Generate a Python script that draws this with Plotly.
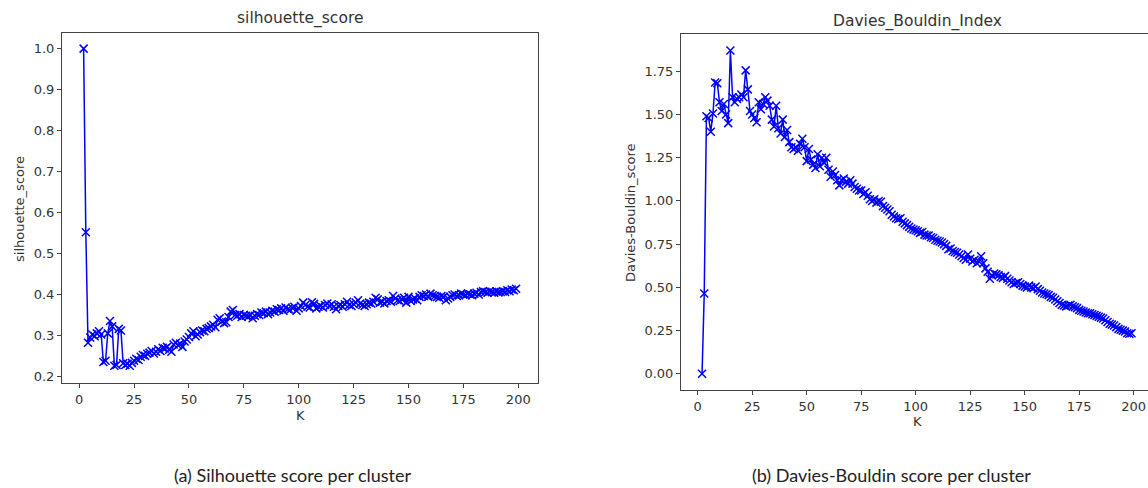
import plotly.graph_objects as go

W, H = 1148, 488

# number of clusters evaluated
k_values = list(range(2, 200))

silhouette = [
    1.000, 0.552, 0.282, 0.295, 0.302, 0.298, 0.305, 0.310, 0.302, 0.235,
    0.238, 0.305, 0.335, 0.322, 0.226, 0.228, 0.316, 0.312, 0.232, 0.228,
    0.231, 0.226, 0.233, 0.238, 0.243, 0.240, 0.248, 0.252, 0.250, 0.255,
    0.258, 0.262, 0.256, 0.260, 0.266, 0.262, 0.270, 0.268, 0.272, 0.265,
    0.260, 0.278, 0.282, 0.276, 0.280, 0.272, 0.285, 0.290, 0.296, 0.305,
    0.310, 0.298, 0.302, 0.308, 0.312, 0.310, 0.316, 0.318, 0.322, 0.326,
    0.320, 0.338, 0.342, 0.334, 0.330, 0.332, 0.345, 0.358, 0.362, 0.350,
    0.348, 0.352, 0.345, 0.350, 0.348, 0.346, 0.350, 0.342, 0.348, 0.352,
    0.350, 0.356, 0.354, 0.358, 0.352, 0.356, 0.360, 0.358, 0.364, 0.362,
    0.366, 0.360, 0.368, 0.364, 0.362, 0.367, 0.370, 0.360, 0.366, 0.372,
    0.380, 0.374, 0.370, 0.368, 0.381, 0.377, 0.366, 0.370, 0.372, 0.368,
    0.374, 0.378, 0.372, 0.376, 0.370, 0.364, 0.372, 0.374, 0.370, 0.376,
    0.382, 0.374, 0.372, 0.376, 0.380, 0.386, 0.378, 0.374, 0.372, 0.376,
    0.380, 0.378, 0.382, 0.392, 0.388, 0.380, 0.382, 0.378, 0.384, 0.386,
    0.382, 0.396, 0.390, 0.386, 0.384, 0.388, 0.392, 0.380, 0.394, 0.384,
    0.388, 0.390, 0.386, 0.394, 0.398, 0.396, 0.400, 0.394, 0.402, 0.398,
    0.396, 0.394, 0.392, 0.396, 0.394, 0.386, 0.390, 0.394, 0.398, 0.400,
    0.396, 0.398, 0.402, 0.400, 0.398, 0.402, 0.400, 0.398, 0.402, 0.404,
    0.400, 0.406, 0.408, 0.406, 0.404, 0.408, 0.406, 0.404, 0.407, 0.405,
    0.406, 0.408, 0.406, 0.410, 0.408, 0.412, 0.410, 0.414,
]

davies_bouldin = [
    0.000, 0.465, 1.490, 1.480, 1.400, 1.505, 1.685, 1.680, 1.570, 1.520,
    1.560, 1.500, 1.450, 1.870, 1.600, 1.570, 1.590, 1.600, 1.615, 1.600,
    1.755, 1.645, 1.520, 1.500, 1.480, 1.455, 1.570, 1.530, 1.560, 1.600,
    1.580, 1.550, 1.470, 1.430, 1.550, 1.420, 1.390, 1.470, 1.370, 1.410,
    1.340, 1.310, 1.300, 1.310, 1.290, 1.330, 1.360, 1.310, 1.230, 1.300,
    1.240, 1.210, 1.190, 1.270, 1.200, 1.250, 1.220, 1.250, 1.180, 1.140,
    1.170, 1.150, 1.120, 1.090, 1.120, 1.130, 1.110, 1.100, 1.120, 1.100,
    1.080, 1.070, 1.060, 1.060, 1.040, 1.050, 1.030, 1.010, 1.000, 1.010,
    0.990, 1.000, 0.995, 0.970, 0.960, 0.950, 0.940, 0.920, 0.910, 0.900,
    0.895, 0.900, 0.880, 0.870, 0.860, 0.850, 0.840, 0.835, 0.830, 0.825,
    0.815, 0.820, 0.805, 0.800, 0.800, 0.790, 0.785, 0.775, 0.770, 0.765,
    0.760, 0.750, 0.740, 0.720, 0.725, 0.710, 0.705, 0.700, 0.690, 0.680,
    0.670, 0.660, 0.690, 0.665, 0.650, 0.660, 0.640, 0.650, 0.680, 0.640,
    0.610, 0.590, 0.550, 0.570, 0.580, 0.575, 0.570, 0.560, 0.555, 0.565,
    0.550, 0.540, 0.530, 0.520, 0.525, 0.530, 0.520, 0.510, 0.505, 0.500,
    0.510, 0.500, 0.495, 0.505, 0.490, 0.480, 0.470, 0.465, 0.460, 0.455,
    0.445, 0.440, 0.430, 0.420, 0.410, 0.400, 0.395, 0.390, 0.395, 0.400,
    0.390, 0.385, 0.380, 0.370, 0.365, 0.360, 0.355, 0.350, 0.350, 0.345,
    0.340, 0.335, 0.330, 0.325, 0.320, 0.310, 0.300, 0.290, 0.285, 0.280,
    0.270, 0.260, 0.255, 0.250, 0.245, 0.235, 0.232, 0.235,
]

sil_ticks = [0.2, 0.3, 0.4, 0.5, 0.6, 0.7, 0.8, 0.9, 1.0]
db_ticks = [0.0, 0.25, 0.5, 0.75, 1.0, 1.25, 1.5, 1.75]
k_ticks = [0, 25, 50, 75, 100, 125, 150, 175, 200]


def px_x(p):
    return p / W


def px_y(p):
    return 1 - p / H


line_style = dict(color="#0000ff", width=1.5)
marker_style = dict(symbol="x-thin", size=8, line=dict(color="#0000ff", width=1.5))

fig = go.Figure()
fig.add_trace(go.Scatter(x=k_values, y=silhouette, mode="lines+markers",
                         line=line_style, marker=marker_style,
                         xaxis="x", yaxis="y", showlegend=False))
fig.add_trace(go.Scatter(x=k_values, y=davies_bouldin, mode="lines+markers",
                         line=line_style, marker=marker_style,
                         xaxis="x2", yaxis="y2", showlegend=False))

tick_font = dict(family="DejaVu Sans", size=13, color="#333333")
axis_common = dict(showgrid=False, zeroline=False, showline=True,
                   linecolor="#444444", linewidth=1, ticks="outside",
                   ticklen=4, tickwidth=1, tickcolor="#444444",
                   tickfont=tick_font)

fig.update_layout(
    width=W, height=H,
    margin=dict(l=0, r=0, t=0, b=0),
    paper_bgcolor="white", plot_bgcolor="white",
    xaxis=dict(domain=[px_x(62), px_x(537.7)], range=[-7.85, 208.85],
               tickvals=k_ticks, anchor="y", mirror=True, **axis_common),
    yaxis=dict(domain=[px_y(383.3), px_y(32.7)], range=[0.1831, 1.0389],
               tickvals=sil_ticks, ticktext=[f"{v:.1f}" for v in sil_ticks],
               anchor="x", mirror=True, **axis_common),
    xaxis2=dict(domain=[px_x(681), 1.0], range=[-7.66, 206.56],
                tickvals=k_ticks, anchor="y2", mirror=True, **axis_common),
    yaxis2=dict(domain=[px_y(390), px_y(34.3)], range=[-0.0935, 1.9635],
                tickvals=db_ticks, ticktext=[f"{v:.2f}" for v in db_ticks],
                anchor="x2", mirror=False, **axis_common),
)

label_font = dict(family="DejaVu Sans", size=13, color="#333333")
title_font = dict(family="DejaVu Sans", size=15.5, color="#333333")
caption_font = dict(family="Lato", size=18, color="#222222")

texts = [
    # subplot titles
    (300, 18.5, "silhouette_score", title_font, 0),
    (917, 21, "Davies_Bouldin_Index", title_font, 0),
    # x-axis labels
    (300, 415, "K", label_font, 0),
    (917, 421, "K", label_font, 0),
    # y-axis labels
    (19, 209, "silhouette_score", label_font, -90),
    (630, 213, "Davies-Bouldin_score", label_font, -90),
    # captions
    (293, 475, "(a) Silhouette score per cluster", caption_font, 0),
    (891, 475, "(b) Davies-Bouldin score per cluster", caption_font, 0),
]
for x, y, t, f, ang in texts:
    fig.add_annotation(x=px_x(x), y=px_y(y), xref="paper", yref="paper",
                       text=t, showarrow=False, font=f, textangle=ang,
                       xanchor="center", yanchor="middle")

fig.write_html("out.html")
